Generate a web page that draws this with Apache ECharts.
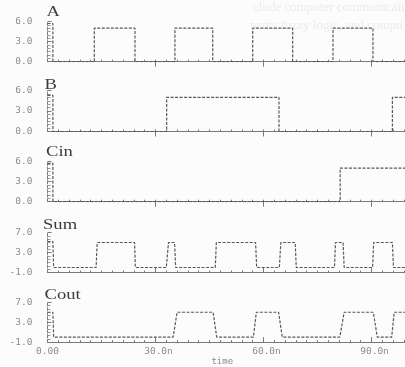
<!DOCTYPE html>
<html><head><meta charset="utf-8">
<script src="https://cdn.jsdelivr.net/npm/echarts@6/dist/echarts.min.js"></script>
<style>html,body{margin:0;padding:0;background:#fcfcfc}#c{width:405px;height:367px}</style>
</head><body><div id="c"></div><script>
// ---- data ----
const signalNames = ['A', 'B', 'Cin', 'Sum', 'Cout'];

const aTime = [0, 1.5, 1.5, 13.0, 13.0, 24.3, 24.3, 35.4, 35.4, 45.9, 45.9, 57.0, 57.0, 68.1, 68.1, 79.3, 79.3, 90.4, 90.4, 99.3];
const aVolt = [5.7, 5.7, 0, 0, 5, 5, 0, 0, 5, 5, 0, 0, 5, 5, 0, 0, 5, 5, 0, 0];

const bTime = [0, 1.5, 1.5, 33.1, 33.1, 64.3, 64.3, 95.8, 95.8, 99.3];
const bVolt = [5.3, 5.3, 0, 0, 5, 5, 0, 0, 5, 5];

const cinTime = [0, 1.5, 1.5, 81.3, 81.3, 99.3];
const cinVolt = [5.7, 5.7, 0, 0, 5, 5];

const sumTime = [0, 1.5, 1.7, 13.5, 13.8, 24.2, 24.4, 33.0, 33.6, 35.3, 35.6, 46.6, 46.9, 57.8, 58.1, 64.4, 64.8, 68.8, 69.1, 79.7, 80.0, 82.1, 82.4, 90.3, 90.6, 95.8, 96.1, 99.3];
const sumVolt = [5.2, 5.2, 0, 0, 5, 5, 0, 0, 5, 5, 0, 0, 5, 5, 0, 0, 5, 5, 0, 0, 5, 5, 0, 0, 5, 5, 0, 0];

const coutTime = [0, 1.5, 1.7, 34.9, 36.0, 46.0, 47.0, 57.2, 58.0, 64.2, 65.2, 81.2, 82.4, 90.5, 91.6, 95.6, 96.3, 99.3];
const coutVolt = [5, 5, 0, 0, 5, 5, 0, 0, 5, 5, 0, 0, 5, 5, 0, 0, 5, 5];

const yMin = [0, 0, 0, -1, -1];
const yMax = [6, 6, 6, 7, 7];
const yStep = [3, 3, 3, 4, 4];

const timeMax = 99.3;
const timeTicks = [0, 30, 60, 90];
const timeTickLabels = ['0.00', '30.0n', '60.0n', '90.0n'];
const timeMinorStep = 3;
const axisName = 'time';

const bleedText = ['clude computer communicati', 'nents fuzzy logic, and compu'];

// ---- layout / style ----
const L = {
  left: 47.5, width: 357.5,
  tops: [21.5, 90.5, 161.3, 232.5, 302.3],
  heights: [40.2, 41, 40.4, 40, 40],
  titleX: [46.5, 44.5, 46, 43, 44.5],
  titleY: [4, 77, 144, 217, 287],
  labelShift: [3, 6, 7, 8, 8]
};
const waveColor = '#585858';
const axisColor = '#7a7a7a';
const labelColor = '#8c8c8c';
const mono = 'DejaVu Sans Mono';

const series = [[aTime, aVolt], [bTime, bVolt], [cinTime, cinVolt], [sumTime, sumVolt], [coutTime, coutVolt]];

const grid = [], xAxis = [], yAxis = [], ser = [];
signalNames.forEach((name, i) => {
  grid.push({ left: L.left, top: L.tops[i], width: L.width, height: L.heights[i], containLabel: false });
  const isLast = i === signalNames.length - 1;
  xAxis.push({
    type: 'value', gridIndex: i, min: 0, max: timeMax, interval: timeMinorStep,
    axisLine: { show: true, onZero: false, lineStyle: { color: axisColor, width: 1 } },
    axisTick: { show: true, inside: true, length: 2, lineStyle: { color: axisColor } },
    splitLine: { show: false },
    axisLabel: {
      show: isLast, customValues: timeTicks, margin: 4,
      fontFamily: mono, fontSize: 9.5, color: labelColor,
      formatter: v => {
        const k = timeTicks.indexOf(v);
        const s = k >= 0 ? timeTickLabels[k] : '';
        return v === 0 ? s : '{n|' + s + '}';
      },
      rich: { n: { fontFamily: mono, fontSize: 9.5, color: labelColor, padding: [0, 0, 0, 6] } }
    },
    name: isLast ? axisName : '', nameLocation: 'middle', nameGap: 12,
    nameTextStyle: { fontFamily: mono, fontSize: 9, color: labelColor, padding: [0, 8, 0, 0] }
  });
  // major ticks
  xAxis.push({
    type: 'value', gridIndex: i, min: 0, max: timeMax,
    axisLine: { show: false },
    axisTick: { show: true, inside: true, length: 5, customValues: timeTicks.slice(1), lineStyle: { color: axisColor } },
    axisLabel: { show: false }, splitLine: { show: false }
  });
  yAxis.push({
    type: 'value', gridIndex: i, min: yMin[i], max: yMax[i], interval: yStep[i],
    axisLine: { show: true, lineStyle: { color: axisColor, type: [3, 1.5] } },
    axisTick: { show: true, inside: true, length: 4, lineStyle: { color: axisColor } },
    minorTick: { show: true, splitNumber: 6, length: 3, lineStyle: { color: '#999' } },
    splitLine: { show: false },
    axisLabel: {
      margin: 15, fontFamily: mono, fontSize: 9.5, color: labelColor,
      padding: [0, 0, L.labelShift[i], 0],
      formatter: v => v.toFixed(1)
    }
  });
  const [t, v] = series[i];
  ser.push({
    type: 'line', name, xAxisIndex: 2 * i, yAxisIndex: i,
    data: t.map((x, k) => [x, v[k]]),
    showSymbol: false, symbol: 'none', animation: false, clip: true,
    lineStyle: { color: waveColor, width: 1.2, type: [3, 1.5] }
  });
});

const graphic = signalNames.map((name, i) => ({
  type: 'text', x: L.titleX[i], y: L.titleY[i], scaleX: 1.2, silent: true,
  style: { text: name, font: '15.5px "Liberation Serif"', fill: '#3c3c3c', align: 'left', verticalAlign: 'top' }
}));
graphic.push(
  { type: 'text', x: 253, y: 1, z: -10, silent: true, style: { text: bleedText[0], font: '13px "Liberation Serif"', fill: '#ebebeb', verticalAlign: 'top' } },
  { type: 'text', x: 250, y: 19, z: -10, silent: true, style: { text: bleedText[1], font: '13px "Liberation Serif"', fill: '#ebebeb', verticalAlign: 'top' } }
);

const chart = echarts.init(document.getElementById('c'), null, { renderer: 'canvas' });
chart.setOption({
  backgroundColor: '#fcfcfc', animation: false,
  grid, xAxis, yAxis, series: ser, graphic
});
</script></body></html>
